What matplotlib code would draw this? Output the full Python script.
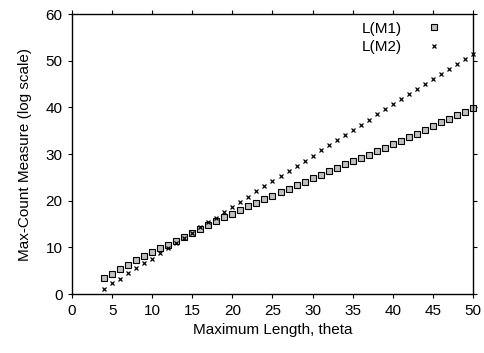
import numpy as np
import matplotlib.pyplot as plt

plt.rcParams['font.family'] = ['Liberation Sans', 'DejaVu Sans']

# --- data ---
theta = np.arange(4, 51)

lm1 = [3.4, 4.4, 5.4, 6.3, 7.2, 8.1, 9.0, 9.8, 10.6, 11.4, 12.2, 13.0, 14.0,
       14.8, 15.6, 16.5, 17.2, 18.0, 18.8, 19.5, 20.3, 21.1, 21.8, 22.6, 23.4,
       24.1, 24.9, 25.6, 26.3, 27.0, 27.8, 28.5, 29.2, 29.9, 30.6, 31.4, 32.2,
       32.9, 33.6, 34.4, 35.2, 36.0, 36.8, 37.6, 38.3, 39.0, 39.8]

lm2 = [1.1, 2.3, 3.3, 4.5, 5.5, 6.6, 7.6, 8.7, 9.8, 10.9, 12.0, 13.1, 14.3,
       15.4, 16.4, 17.6, 18.7, 19.8, 20.8, 22.0, 23.1, 24.2, 25.3, 26.4, 27.5,
       28.5, 29.6, 30.8, 31.9, 33.0, 34.1, 35.2, 36.3, 37.4, 38.5, 39.6, 40.7,
       41.7, 42.8, 43.9, 45.0, 46.1, 47.1, 48.2, 49.3, 50.4, 51.5]

fig = plt.figure(figsize=(4.84, 3.53), dpi=100)
ax = fig.add_axes([0.149, 0.167, 0.828, 0.793])

ax.plot(theta, lm1, linestyle='none', marker='s', markersize=3.8,
        markerfacecolor='#c0c0c0', markeredgecolor='black',
        markeredgewidth=0.8, label='L(M1)', clip_on=False)
ax.plot(theta, lm2, linestyle='none', marker='x', markersize=3.4,
        color='black', markeredgewidth=0.9, label='L(M2)', clip_on=False)

ax.set_xlim(0, 50)
ax.set_ylim(0, 60)
ax.set_xticks(range(0, 51, 5))
ax.set_yticks(range(0, 61, 10))
ax.tick_params(direction='out', length=3, width=0.8, labelsize=11,
               top=True, right=True, pad=4)
for s in ax.spines.values():
    s.set_linewidth(1.0)

ax.set_xlabel('Maximum Length, theta', fontsize=11)
ax.set_ylabel('Max-Count Measure (log scale)', fontsize=11, labelpad=10)

ax.legend(loc='upper right', bbox_to_anchor=(0.94, 1.0), frameon=False,
          markerfirst=False, fontsize=11, handletextpad=1.6,
          labelspacing=0.3, borderaxespad=0.1, handlelength=1.0)

plt.savefig('out.png', dpi=100)
